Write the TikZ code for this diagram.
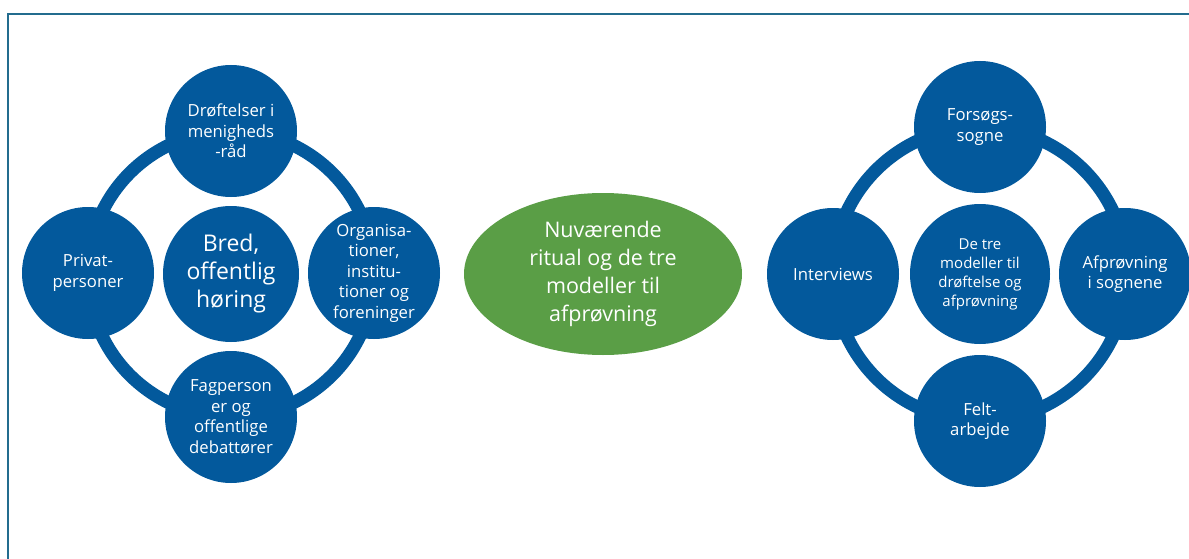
\documentclass[tikz,border=0pt]{standalone}
\usepackage{fontspec}
\setmainfont{Open Sans}
\usetikzlibrary{shapes.geometric}
\definecolor{ringblue}{HTML}{03599C}
\definecolor{leafgreen}{HTML}{5A9E46}
\definecolor{framecol}{HTML}{236C8E}
\tikzset{
	bubble/.style={circle, fill=ringblue, text=white, minimum size=132pt, inner sep=0pt, align=center, font=\fontsize{16.7}{20.5}\selectfont},
	ring/.style={draw=ringblue, line width=13pt},
}

\begin{document}
\begin{tikzpicture}[x=1pt,y=-1pt]
	\useasboundingbox (0,0) rectangle (1189,559);
	\draw [framecol, line width=2pt] (8,559) -- (8,14) -- (1189,14);
	%
	\node[bubble, minimum size=136pt, font=\fontsize{23}{28}\selectfont] (bred) at (231,274) {Bred,\\offentlig\\høring};
	\draw [ring] (bred.center) circle (143pt);
	\node[bubble] (drof) at (231,131) {Drøftelser i\\menigheds\\-råd};
	\node[bubble] (priv) at (88,273) {Privat-\\personer};
	\node[bubble] (org) at (374,273) {Organisa-\\tioner,\\institu-\\tioner og\\foreninger};
	\node[bubble] (fag) at (231,417) {Fagperson\\er og\\offentlige\\debattører};
	%
	\node[ellipse, fill=leafgreen, text=white, minimum width=278pt, minimum height=162pt, inner sep=0pt, align=center, font=\fontsize{21.5}{28}\selectfont] (nuv) at (603,274) {Nuværende\\ritual og de tre\\modeller til\\afprøvning};
	%
	\node[bubble, minimum size=140pt, font=\fontsize{15}{19}\selectfont] (tre) at (980,274) {De tre\\modeller til\\drøftelse og\\afprøvning};
	\draw [ring] (tre.center) circle (147pt);
	\node[bubble] (fors) at (980,127) {Forsøgs-\\sogne};
	\node[bubble] (interv) at (833,274) {Interviews};
	\node[bubble] (afpr) at (1125,274) {Afprøvning\\i sognene};
	\node[bubble] (felt) at (980,421) {Felt-\\arbejde};
\end{tikzpicture}
\end{document}
